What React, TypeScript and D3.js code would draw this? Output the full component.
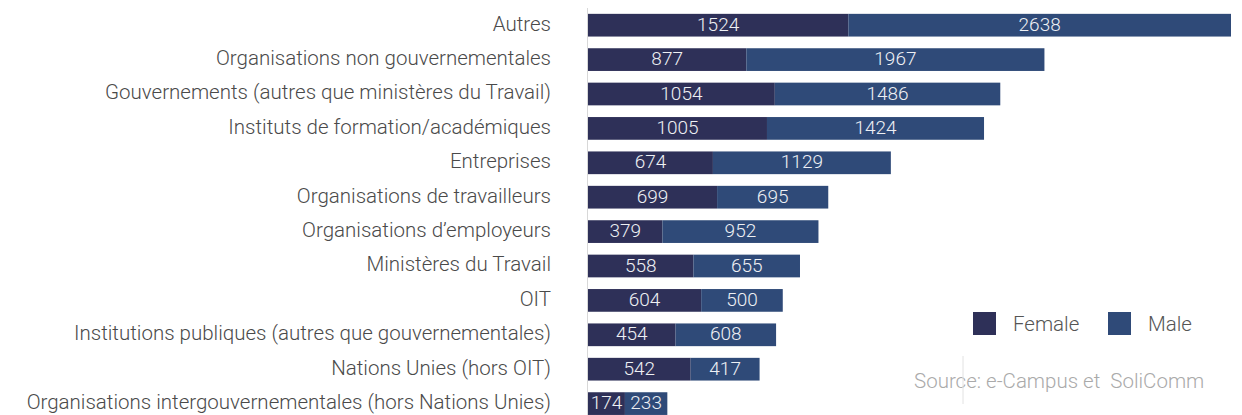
import React from "react";
import * as d3 from "d3";

const categories = [
  "Autres",
  "Organisations non gouvernementales",
  "Gouvernements (autres que ministères du Travail)",
  "Instituts de formation/académiques",
  "Entreprises",
  "Organisations de travailleurs",
  "Organisations d’employeurs",
  "Ministères du Travail",
  "OIT",
  "Institutions publiques (autres que gouvernementales)",
  "Nations Unies (hors OIT)",
  "Organisations intergouvernementales (hors Nations Unies)",
];
const female = [1524, 877, 1054, 1005, 674, 699, 379, 558, 604, 454, 542, 174];
const male = [2638, 1967, 1486, 1424, 1129, 695, 952, 655, 500, 608, 417, 233];
const seriesNames = ["Female", "Male"];
const colors = ["#2e3058", "#2f4a78"];

const W = 1242;
const H = 415;
const FONT = "Roboto, 'Liberation Sans', sans-serif";

export default function App() {
  const rows = categories.map((c, i) => ({ cat: c, Female: female[i], Male: male[i] }));
  const stack = d3.stack<any>().keys(seriesNames)(rows);

  // the source graphic is not strictly linear; a mild power scale follows it best
  const x = d3
    .scalePow()
    .exponent(0.9)
    .domain([0, d3.max(rows, (d) => d.Female + d.Male) as number])
    .range([588, 1231]);
  const y = d3
    .scaleBand()
    .domain(categories)
    .range([8, 8 + 34.4 * categories.length])
    .paddingInner(0.34)
    .paddingOuter(0.17);

  return (
    <svg
      width={W}
      height={H}
      style={{ position: "absolute", left: 0, top: 0, background: "#fff" }}
      fontFamily={FONT}
    >
      {stack.map((s, si) => (
        <g key={s.key}>
          {s.map((d, i) => {
            const x0 = x(d[0]);
            const x1 = x(d[1]);
            const yy = y(categories[i]) as number;
            return (
              <g key={i}>
                <rect x={x0} y={yy} width={x1 - x0} height={y.bandwidth()} fill={colors[si]} />
                <text
                  x={(x0 + x1) / 2}
                  y={yy + y.bandwidth() / 2 - 1}
                  dy="0.35em"
                  textAnchor="middle"
                  fill="#eef0f4"
                  fontSize={19}
                  fontWeight={300}
                >
                  {d[1] - d[0]}
                </text>
              </g>
            );
          })}
        </g>
      ))}
      <line x1={587.5} x2={587.5} y1={y.range()[0]} y2={H} stroke="#d8d8d8" />
      {categories.map((c) => (
        <text
          key={c}
          x={551}
          y={(y(c) as number) + y.bandwidth() / 2 - 2}
          dy="0.36em"
          textAnchor="end"
          fill="#4a4a4a"
          fontSize={20.5}
          fontWeight={300}
        >
          {c}
        </text>
      ))}
      {seriesNames.map((n, i) => (
        <g key={n} transform={`translate(${973 + i * 135},312)`}>
          <rect width={23} height={23} fill={colors[i]} />
          <text x={40} y={12} dy="0.36em" fill="#555" fontSize={20.5} fontWeight={300}>
            {n}
          </text>
        </g>
      ))}
      <text
        x={914}
        y={381}
        dy="0.36em"
        fill="#aaa"
        fontSize={20.5}
        fontWeight={300}
        style={{ whiteSpace: "pre" }}
      >
        Source: e-Campus et  SoliComm
      </text>
      <line x1={963} x2={963} y1={356} y2={404} stroke="#e2e2e2" />
    </svg>
  );
}
